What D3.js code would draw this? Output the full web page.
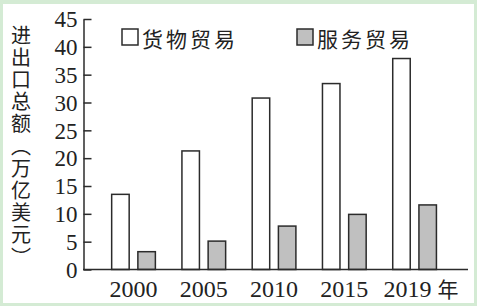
<!DOCTYPE html>
<html><head><meta charset="utf-8">
<script src="https://cdn.jsdelivr.net/npm/d3@7"></script>
<style>
html,body{margin:0;padding:0;background:#d4ebd4;}
svg{display:block;}
</style></head><body>
<script>
const years = ["2000","2005","2010","2015","2019"];
const goods = [13.5, 21.3, 30.8, 33.4, 37.9];
const services = [3.2, 5.1, 7.8, 9.9, 11.6];
const seriesNames = ["货物贸易","服务贸易"];
const yTicks = [0,5,10,15,20,25,30,35,40,45];
const yTitle = "进出口总额（万亿美元）";
const xUnit = "年";

const W = 477, H = 306;
const svg = d3.select("body").append("svg").attr("width", W).attr("height", H);
svg.append("rect").attr("x",0).attr("y",0).attr("width",W).attr("height",H).attr("fill","#d4ebd4");
svg.append("rect").attr("x",3).attr("y",4).attr("width",471).attr("height",299).attr("fill","#fff");

const ink = "#2b2b2b";
const serif = "'Liberation Serif','Times New Roman',serif";
const cjk = "'Noto Sans CJK SC','Noto Sans CJK JP',sans-serif";

const y = d3.scaleLinear().domain([0,45]).range([269.5,19]);
const x0 = d3.scaleBand().domain(years).range([83,465.1]).paddingInner(0.378).paddingOuter(0.408);
const x1 = d3.scaleBand().domain(seriesNames).range([0,x0.bandwidth()]).paddingInner(0.332);
const fills = {"货物贸易":"#ffffff","服务贸易":"#c0c0c0"};

const data = years.map((yr,i)=>({year:yr, vals:[{k:seriesNames[0],v:goods[i]},{k:seriesNames[1],v:services[i]}]}));

const g = svg.append("g");
g.selectAll("g.grp").data(data).join("g").attr("class","grp")
 .attr("transform",d=>`translate(${x0(d.year)},0)`)
 .selectAll("rect").data(d=>d.vals).join("rect")
 .attr("x",d=>x1(d.k)).attr("width",x1.bandwidth())
 .attr("y",d=>y(d.v)).attr("height",d=>y(0)-y(d.v))
 .attr("fill",d=>fills[d.k]).attr("stroke",ink).attr("stroke-width",1.5);

// Y axis
const yAxis = d3.axisLeft(y).tickValues(yTicks).tickSize(-8).tickSizeOuter(0).tickPadding(6);
const ya = svg.append("g").attr("transform","translate(83.5,0)").call(yAxis);
ya.select(".domain").attr("stroke",ink).attr("stroke-width",1.5);
ya.selectAll(".tick line").attr("stroke",ink).attr("stroke-width",1.5);
ya.selectAll(".tick text").attr("font-family",serif).attr("font-size",23).attr("fill","#222").attr("dy","0.34em");

// X axis
const xAxis = d3.axisBottom(x0).tickSize(0).tickPadding(10);
const xa = svg.append("g").attr("transform",`translate(0,${y(0)})`).call(xAxis);
xa.select(".domain").remove();
svg.append("line").attr("x1",83).attr("x2",468).attr("y1",y(0)).attr("y2",y(0)).attr("stroke",ink).attr("stroke-width",1.5);
xa.selectAll(".tick text").attr("font-family",serif).attr("font-size",24).attr("fill","#222").attr("dy","0.72em");
xa.selectAll(".tick").filter(d=>d===years[years.length-1]).select("text")
  .attr("text-anchor","start").attr("x",-31)
  .append("tspan").attr("font-family",cjk).attr("font-size",21).attr("dx",6).text(xUnit);

// Y title (vertical)
svg.append("text")
 .attr("x",21).attr("y",25)
 .style("writing-mode","vertical-rl")
 .attr("font-family",cjk).attr("font-size",20).attr("letter-spacing",2.2)
 .attr("fill","#222").text(yTitle);

// Legend
const legX = [122, 297];
const leg = svg.append("g").selectAll("g").data(seriesNames).join("g")
 .attr("transform",(d,i)=>`translate(${legX[i]},29)`);
leg.append("rect").attr("x",0).attr("y",0).attr("width",16).attr("height",16)
 .attr("fill",d=>fills[d]).attr("stroke",ink).attr("stroke-width",1.5);
leg.append("text").attr("x",20).attr("y",8.5).attr("dominant-baseline","central")
 .attr("font-family",cjk).attr("font-size",21).attr("letter-spacing",3).attr("fill","#222").text(d=>d);
</script>
</body></html>
